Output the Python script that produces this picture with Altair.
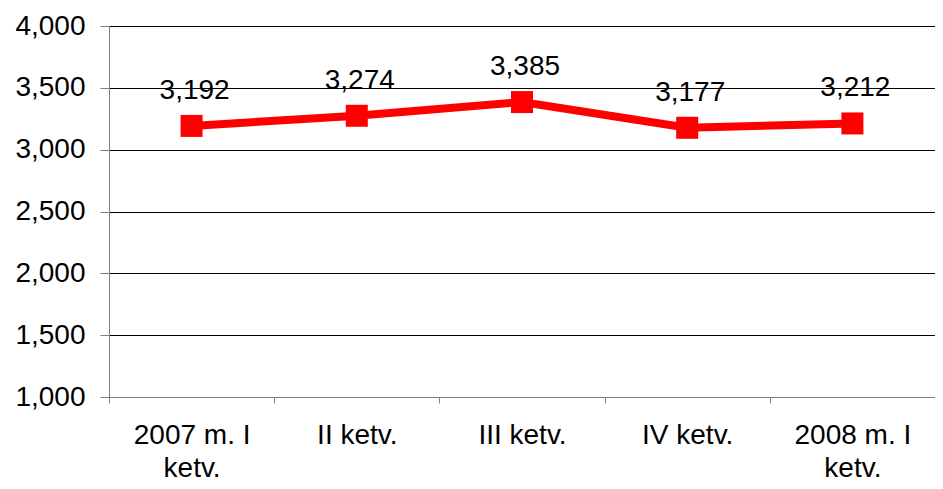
import altair as alt
import pandas as pd

categories = ["2007 m. I\nketv.", "II ketv.", "III ketv.", "IV ketv.", "2008 m. I\nketv."]
values = [3192, 3274, 3385, 3177, 3212]
y_ticks = [1000, 1500, 2000, 2500, 3000, 3500, 4000]

df = pd.DataFrame({"cat": categories, "val": values})

FONT = "Liberation Sans"
RED = "#FF0000"

x_enc = alt.X(
    "cat:N",
    sort=categories,
    scale=alt.Scale(type="band", paddingInner=0, paddingOuter=0),
    axis=alt.Axis(
        title=None,
        grid=False,
        tickBand="extent",
        tickSize=6,
        tickColor="#808080",
        domainColor="#808080",
        labelAngle=0,
        labelFont=FONT,
        labelFontSize=28,
        labelColor="#000000",
        labelPadding=18,
        labelLineHeight=33,
        labelExpr="split(datum.label, '\\n')",
    ),
)
y_enc = alt.Y(
    "val:Q",
    scale=alt.Scale(domain=[1000, 4000], nice=False, zero=False),
    axis=alt.Axis(
        title=None,
        values=y_ticks,
        format=",d",
        grid=True,
        gridColor="#000000",
        gridWidth=1,
        tickSize=9,
        tickColor="#808080",
        domainColor="#808080",
        labelFont=FONT,
        labelFontSize=28,
        labelColor="#000000",
        labelPadding=15,
    ),
)

base = alt.Chart(df).encode(x=x_enc, y=y_enc)

line = base.mark_line(color=RED, strokeWidth=8)
pts = base.mark_square(color=RED, size=484, opacity=1)
labels = base.mark_text(
    dy=-27, dx=3, baseline="alphabetic", font=FONT, fontSize=28, color="#000000"
).encode(text=alt.Text("val:Q", format=","))

chart = (
    alt.layer(line, pts, labels)
    .properties(
        width=826,
        height=371,
        autosize=alt.AutoSizeParams(type="none"),
        padding={"left": 101, "top": 18, "right": 0, "bottom": 84},
    )
    .configure_view(stroke=None)
    .configure(background="#FFFFFF")
)

chart.save("out.html", embed_options={"renderer": "svg", "actions": False})
